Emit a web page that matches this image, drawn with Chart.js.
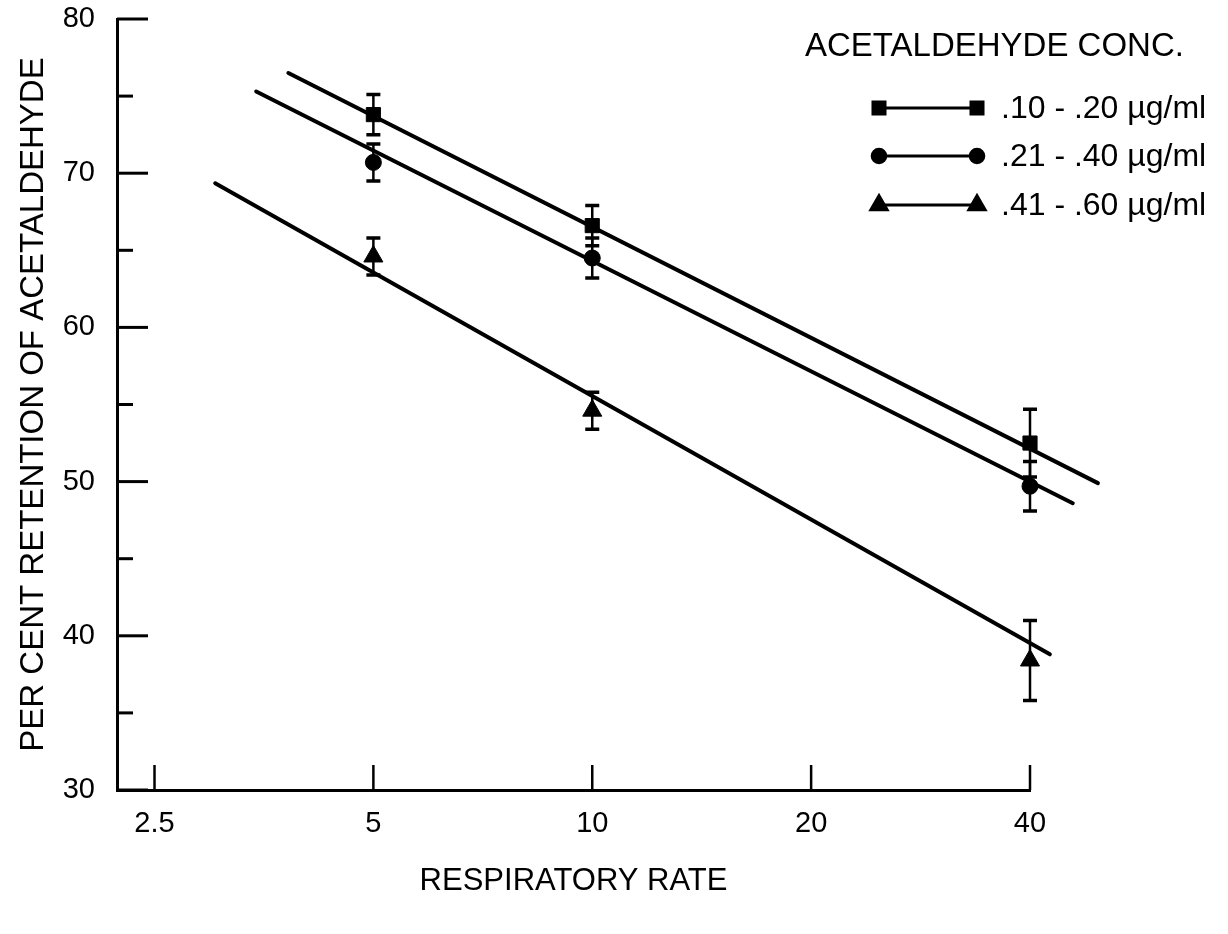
<!DOCTYPE html>
<html>
<head>
<meta charset="utf-8">
<script src="https://cdn.jsdelivr.net/npm/chart.js@4/dist/chart.umd.min.js"></script>
<style>
  html, body { margin: 0; background: #fff; }
  #caixa { width: 1228px; height: 934px; }
</style>
</head>
<body>
<div id="caixa"><canvas id="grafico"></canvas></div>
<script>
const rates = [5, 10, 40];
const seriesLabels = ['.10 - .20 µg/ml', '.21 - .40 µg/ml', '.41 - .60 µg/ml'];
const lowConc = [73.8, 66.6, 52.5];
const lowErr = [1.3, 1.3, 2.2];
const midConc = [70.7, 64.5, 49.7];
const midErr = [1.2, 1.3, 1.6];
const highConc = [64.6, 54.6, 38.4];
const highErr = [1.2, 1.2, 2.6];

// regression lines, ends
const lowFitX = [3.82, 49.6], lowFitY = [76.5, 49.9];
const midFitX = [3.45, 45.8], midFitY = [75.3, 48.6];
const highFitX = [3.03, 42.6], highFitY = [69.35, 38.8];

const xTicks = [2.5, 5, 10, 20, 40];
const yTicks = [30, 35, 40, 45, 50, 55, 60, 65, 70, 75, 80];

const fonte = 'Liberation Sans, Arial, Helvetica, sans-serif';
const estilos = ['rect', 'circle', 'triangle'];
const raios = [10, 8, 11];

function pontos(xs, ys) {
    return xs.map((x, i) => ({ x: x, y: ys[i] }));
}

function serieMarcas(valores, erros, i) {
    return {
        type: 'scatter',
        label: seriesLabels[i],
        data: pontos(rates, valores),
        erros: erros,
        pointStyle: estilos[i],
        pointRadius: raios[i],
        pointBackgroundColor: '#000',
        pointBorderColor: '#000',
        pointBorderWidth: 1,
        clip: false,
        order: 0
    };
}

function serieReta(xs, ys) {
    return {
        type: 'line',
        data: pontos(xs, ys),
        borderColor: '#000',
        borderWidth: 4,
        pointRadius: 0,
        borderCapStyle: 'round',
        clip: false,
        order: 1
    };
}

// error bars, inward tick marks and the legend
const extras = {
    id: 'extras',
    afterDatasetsDraw(chart) {
        const ctx = chart.ctx;
        const sx = chart.scales.x, sy = chart.scales.y;
        ctx.save();
        ctx.strokeStyle = '#000';
        ctx.lineCap = 'butt';
        chart.data.datasets.forEach(ds => {
            if (!ds.erros) return;
            ds.data.forEach((p, i) => {
                const x = sx.getPixelForValue(p.x);
                const top = sy.getPixelForValue(p.y + ds.erros[i]);
                const bot = sy.getPixelForValue(p.y - ds.erros[i]);
                ctx.lineWidth = 2.5;
                ctx.beginPath();
                ctx.moveTo(x, top); ctx.lineTo(x, bot);
                ctx.stroke();
                ctx.lineWidth = 3.5;
                ctx.beginPath();
                ctx.moveTo(x - 7, top); ctx.lineTo(x + 7, top);
                ctx.moveTo(x - 7, bot); ctx.lineTo(x + 7, bot);
                ctx.stroke();
            });
        });

        // ticks pointing into the plot
        ctx.lineWidth = 3;
        yTicks.forEach(v => {
            const y = sy.getPixelForValue(v);
            const len = v % 10 === 0 ? 31 : 16;
            ctx.beginPath();
            ctx.moveTo(sx.left, y); ctx.lineTo(sx.left + len, y);
            ctx.stroke();
        });
        ctx.lineWidth = 2.5;
        xTicks.forEach(v => {
            const x = sx.getPixelForValue(v);
            ctx.beginPath();
            ctx.moveTo(x, sy.bottom); ctx.lineTo(x, sy.bottom - 25);
            ctx.stroke();
        });

        // legend
        ctx.fillStyle = '#000';
        ctx.textBaseline = 'middle';
        ctx.textAlign = 'left';
        ctx.font = '33px ' + fonte;
        ctx.fillText('ACETALDEHYDE CONC.', 805, 47);
        const linhasY = [108, 156, 205];
        chart.data.datasets.filter(d => d.erros).forEach((ds, i) => {
            const y = linhasY[i];
            ctx.lineWidth = 3;
            ctx.beginPath();
            ctx.moveTo(879, y); ctx.lineTo(977, y);
            ctx.stroke();
            const opt = { pointStyle: ds.pointStyle, radius: ds.pointRadius * 0.85, rotation: 0, borderWidth: 1 };
            Chart.helpers.drawPoint(ctx, opt, 879, y);
            Chart.helpers.drawPoint(ctx, opt, 977, y);
            ctx.font = '32px ' + fonte;
            ctx.fillText(ds.label, 1001, y + 1);
        });
        ctx.restore();
    }
};

const ctxGrafico = document.getElementById('grafico').getContext('2d');
const grafico = new Chart(ctxGrafico, {
    data: {
        datasets: [
            serieMarcas(lowConc, lowErr, 0),
            serieMarcas(midConc, midErr, 1),
            serieMarcas(highConc, highErr, 2),
            serieReta(lowFitX, lowFitY),
            serieReta(midFitX, midFitY),
            serieReta(highFitX, highFitY)
        ]
    },
    options: {
        responsive: true,
        maintainAspectRatio: false,
        animation: false,
        layout: { padding: { left: 0, top: 19, right: 198, bottom: 0 } },
        plugins: {
            legend: { display: false },
            tooltip: { enabled: false }
        },
        scales: {
            x: {
                type: 'logarithmic',
                min: 2.22,
                max: 40,
                afterBuildTicks: (scale) => { scale.ticks = xTicks.map(v => ({ value: v })); },
                afterFit: (scale) => { scale.height = 144; },
                ticks: {
                    color: '#000',
                    font: { family: fonte, size: 29 },
                    padding: 17,
                    maxRotation: 0,
                    autoSkip: false,
                    callback: (v) => String(v)
                },
                grid: { display: false, drawTicks: false },
                border: { display: true, color: '#000', width: 3 },
                title: {
                    display: true,
                    text: 'RESPIRATORY RATE',
                    color: '#000',
                    font: { family: fonte, size: 31 },
                    padding: { top: 34, bottom: 34 }
                }
            },
            y: {
                min: 30,
                max: 80,
                afterBuildTicks: (scale) => { scale.ticks = yTicks.map(v => ({ value: v })); },
                afterFit: (scale) => {
                    scale.width = 117;
                    scale.paddingTop = 0;
                    scale.paddingBottom = 0;
                },
                ticks: {
                    color: '#000',
                    font: { family: fonte, size: 29 },
                    padding: 22,
                    autoSkip: false,
                    callback: (v) => (v % 10 === 0 ? String(v) : '')
                },
                grid: { display: false, drawTicks: false },
                border: { display: true, color: '#000', width: 3 },
                title: {
                    display: true,
                    text: 'PER CENT RETENTION OF ACETALDEHYDE',
                    color: '#000',
                    font: { family: fonte, size: 33 },
                    padding: { top: 14, bottom: 14 }
                }
            }
        }
    },
    plugins: [extras]
});
</script>
</body>
</html>
